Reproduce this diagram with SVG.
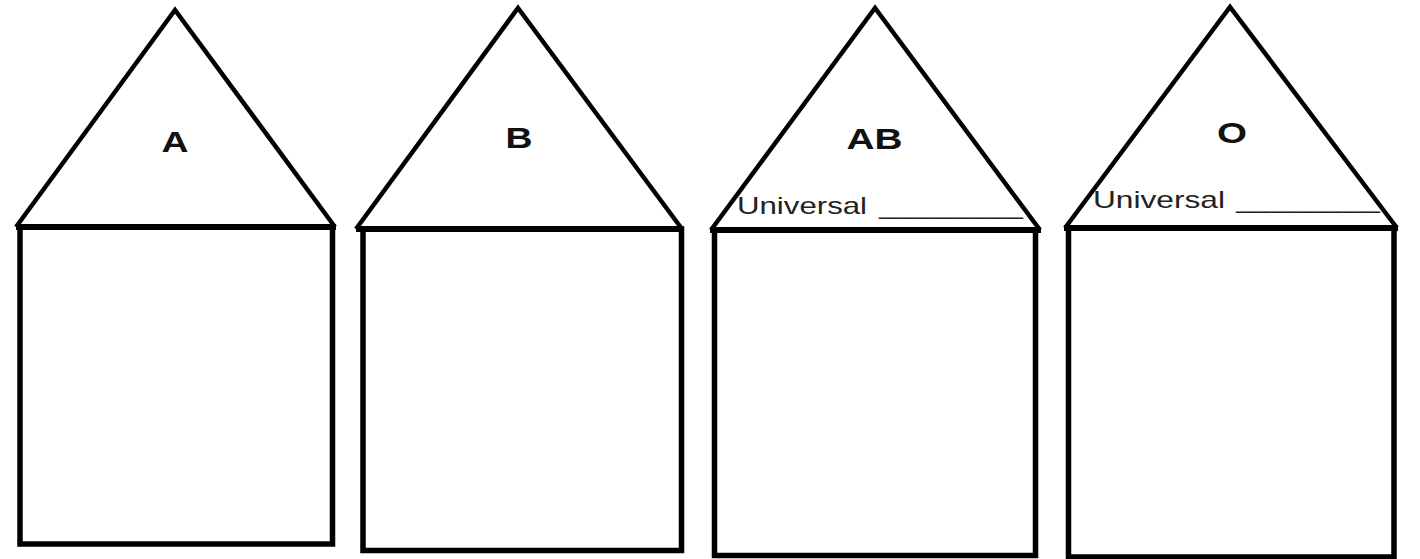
<svg xmlns="http://www.w3.org/2000/svg" width="1420" height="559" viewBox="0 0 1420 559">
<style>
.roof{fill:none;stroke:#000;stroke-width:4.5;stroke-linejoin:miter;stroke-miterlimit:20}
.base{stroke:#000;stroke-width:6;stroke-linecap:butt}
.body{fill:none;stroke:#000;stroke-width:5.5}
.lbl{font-family:"Liberation Sans",Arial,sans-serif;font-weight:bold;font-size:30px;fill:#111;text-anchor:middle}
.uni{font-family:"Liberation Sans",Arial,sans-serif;font-size:24px;fill:#222}
</style>
<rect width="1420" height="559" fill="#fff"/>
<g id="house-A">
<polyline class="roof" points="16,227 175,10 335,227"/>
<rect class="body" x="20" y="227" width="312.5" height="317"/>
<line class="base" x1="16" y1="227" x2="336" y2="227"/>
<text class="lbl" x="175" y="152" textLength="27" lengthAdjust="spacingAndGlyphs">A</text>
</g>
<g id="house-B">
<polyline class="roof" points="356,229 518,8 682,229"/>
<rect class="body" x="363" y="229" width="318.5" height="321.5"/>
<line class="base" x1="356" y1="229" x2="683" y2="229"/>
<text class="lbl" x="519" y="148" textLength="27" lengthAdjust="spacingAndGlyphs">B</text>
</g>
<g id="house-AB">
<polyline class="roof" points="711,230 875,8 1040,230"/>
<rect class="body" x="714.5" y="230" width="321" height="325.5"/>
<line class="base" x1="710" y1="230" x2="1041" y2="230"/>
<text class="lbl" x="874.5" y="149" textLength="56" lengthAdjust="spacingAndGlyphs">AB</text>
<text class="uni" y="214"><tspan x="737" textLength="130" lengthAdjust="spacingAndGlyphs">Universal</tspan><tspan x="879" textLength="144" lengthAdjust="spacingAndGlyphs">__________</tspan></text>
</g>
<g id="house-O">
<polyline class="roof" points="1065,228 1230,7 1397,228"/>
<rect class="body" x="1068.5" y="228" width="325.5" height="329"/>
<line class="base" x1="1064" y1="228" x2="1398" y2="228"/>
<text class="lbl" x="1232" y="143" textLength="30" lengthAdjust="spacingAndGlyphs">O</text>
<text class="uni" y="208"><tspan x="1093" textLength="132" lengthAdjust="spacingAndGlyphs">Universal</tspan><tspan x="1236" textLength="144" lengthAdjust="spacingAndGlyphs">__________</tspan></text>
</g>
<g id="connectors"/>
</svg>
